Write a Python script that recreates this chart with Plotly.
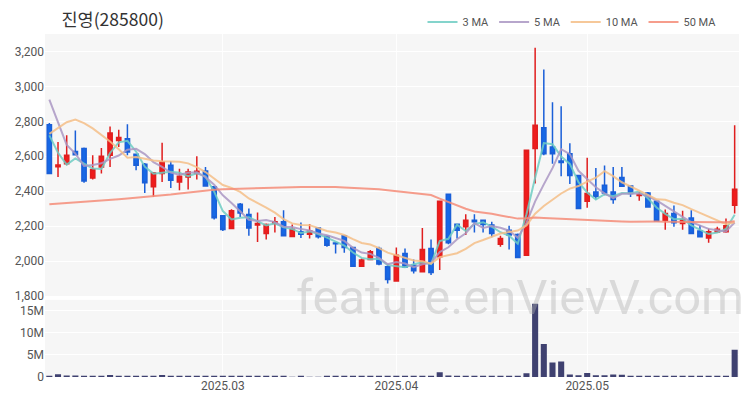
import pandas as pd
import plotly.graph_objects as go

# ---- data -------------------------------------------------------------
title_text = "진영(285800)"
holidays = ["2025-03-03", "2025-05-01", "2025-05-05", "2025-05-06"]
dates = [d.strftime("%Y-%m-%d") for d in pd.bdate_range("2025-02-03", "2025-05-29")
         if d.strftime("%Y-%m-%d") not in holidays]

open_ = [2781, 2540, 2558, 2628, 2644, 2476, 2539, 2606, 2691, 2701,
         2611, 2554, 2425, 2501, 2549, 2453, 2482, 2501, 2516, 2425,
         2259, 2187, 2326, 2267, 2206, 2158, 2215, 2225, 2141, 2168,
         2154, 2190, 2143, 2103, 2145, 2078, 1971, 2009, 2072, 1968,
         1886, 2043, 1977, 1939, 2072, 2025, 2383, 2211, 2196, 2234,
         2234, 2206, 2097, 2177, 2152, 2034, 2644, 2764, 2653, 2573,
         2615, 2490, 2343, 2396, 2434, 2396, 2478, 2430, 2375, 2390,
         2343, 2234, 2272, 2215, 2247, 2173, 2133, 2166, 2168, 2320]
high = [2790, 2682, 2720, 2748, 2650, 2606, 2648, 2771, 2752, 2783,
        2615, 2562, 2510, 2678, 2573, 2529, 2529, 2600, 2539, 2430,
        2262, 2297, 2333, 2301, 2278, 2215, 2253, 2291, 2209, 2221,
        2213, 2195, 2145, 2110, 2149, 2080, 2015, 2063, 2082, 1983,
        2078, 2072, 2009, 2189, 2124, 2343, 2383, 2211, 2268, 2268,
        2234, 2225, 2145, 2202, 2158, 2634, 3221, 3097, 2910, 2886,
        2674, 2494, 2592, 2533, 2548, 2539, 2539, 2434, 2396, 2396,
        2345, 2295, 2318, 2288, 2291, 2206, 2187, 2196, 2244, 2777]
low = [2500, 2482, 2549, 2605, 2448, 2467, 2501, 2539, 2653, 2606,
       2520, 2390, 2368, 2453, 2419, 2406, 2410, 2467, 2425, 2238,
       2173, 2187, 2253, 2145, 2110, 2124, 2164, 2141, 2137, 2133,
       2130, 2130, 2082, 2044, 2048, 1968, 1968, 2006, 1977, 1872,
       1886, 1967, 1929, 1935, 1920, 1949, 2097, 2130, 2149, 2164,
       2164, 2137, 2082, 2067, 2021, 2034, 2444, 2606, 2558, 2486,
       2442, 2297, 2305, 2352, 2377, 2329, 2424, 2367, 2345, 2305,
       2225, 2179, 2196, 2179, 2158, 2139, 2105, 2162, 2162, 2272]
close = [2501, 2550, 2606, 2609, 2459, 2524, 2600, 2733, 2707, 2625,
         2549, 2448, 2505, 2568, 2463, 2486, 2510, 2514, 2430, 2248,
         2181, 2288, 2276, 2190, 2215, 2209, 2225, 2145, 2183, 2154,
         2173, 2139, 2091, 2099, 2078, 1971, 2006, 2053, 1983, 1895,
         2034, 1967, 1945, 2067, 1935, 2343, 2105, 2177, 2234, 2225,
         2209, 2158, 2129, 2149, 2021, 2634, 2777, 2615, 2615, 2564,
         2490, 2301, 2387, 2371, 2390, 2352, 2428, 2387, 2381, 2310,
         2229, 2272, 2219, 2238, 2158, 2139, 2168, 2183, 2202, 2411]
volume = [250000, 600000, 350000, 350000, 150000, 150000, 150000, 450000, 200000, 200000,
          150000, 200000, 150000, 450000, 200000, 150000, 150000, 100000, 200000, 300000,
          100000, 80000, 80000, 60000, 50000, 60000, 50000, 50000, 40000, 50000,
          40000, 40000, 50000, 60000, 50000, 80000, 50000, 50000, 60000, 80000,
          100000, 80000, 120000, 150000, 120000, 1050000, 350000, 150000, 120000, 100000,
          90000, 80000, 60000, 70000, 120000, 850000, 16600000, 7500000, 3300000, 3500000,
          550000, 400000, 900000, 400000, 400000, 550000, 500000, 150000, 90000, 80000,
          120000, 100000, 80000, 90000, 100000, 80000, 90000, 80000, 120000, 6200000]

# moving-average values read from the chart where the window reaches
# before the first visible day
ma3_head = [2720, 2620]
ma5_head = [2924, 2790, 2665, 2615]
ma10_head = [2728, 2760, 2795, 2810, 2790, 2760, 2725, 2685, 2640]
ma50_head = [2326, 2329, 2332, 2335, 2338, 2342, 2346, 2350, 2354, 2358,
             2362, 2367, 2371, 2376, 2381, 2387, 2393, 2399, 2404, 2408,
             2411, 2413, 2414, 2415, 2417, 2419, 2421, 2422, 2423, 2424,
             2425, 2425, 2425, 2424, 2422, 2420, 2418, 2415, 2411, 2406,
             2400, 2394, 2389, 2384, 2378, 2358, 2338, 2318, 2300]

tick_dates = ["2025-03-04", "2025-04-01", "2025-05-02"]
tick_text = ["2025.03", "2025.04", "2025.05"]
price_ticks = [1800, 2000, 2200, 2400, 2600, 2800, 3000, 3200]
vol_ticks = [0, 5e6, 10e6, 15e6]

# ---- moving averages ---------------------------------------------------
cs = pd.Series(close, dtype=float)


def ma(n, head):
    s = cs.rolling(n).mean().tolist()
    return head + s[len(head):]


ma_specs = [("3 MA", ma(3, ma3_head), "rgba(110,205,195,0.85)"),
            ("5 MA", ma(5, ma5_head), "rgba(170,150,195,0.85)"),
            ("10 MA", ma(10, ma10_head), "rgba(245,190,135,0.85)"),
            ("50 MA", ma(50, ma50_head), "rgba(245,140,120,0.85)")]

# ---- figure ------------------------------------------------------------
fig = go.Figure()
fig.add_trace(go.Candlestick(
    x=dates, open=open_, high=high, low=low, close=close,
    increasing=dict(line=dict(color="#e01e1e", width=1.5), fillcolor="#f01c1c"),
    decreasing=dict(line=dict(color="#1a5fd8", width=1.5), fillcolor="#1668e6"),
    whiskerwidth=0, showlegend=False, hoverinfo="skip", xaxis="x", yaxis="y"))

for name, vals, col in ma_specs:
    fig.add_trace(go.Scatter(x=dates, y=vals, mode="lines", name=name,
                             line=dict(color=col, width=2), xaxis="x", yaxis="y"))

fig.add_trace(go.Bar(x=dates, y=volume, marker=dict(color="#3f4170", line=dict(width=0)),
                     showlegend=False, xaxis="x", yaxis="y2"))

font_main = "Roboto, 'Noto Sans CJK KR', sans-serif"
fig.update_layout(
    width=750, height=400,
    margin=dict(l=45, r=11, t=34, b=23, autoexpand=False),
    paper_bgcolor="white", plot_bgcolor="#f6f6f6",
    font=dict(family=font_main, size=12, color="#555"),
    bargap=0.3,
    title=dict(text=title_text, x=0.082, xref="container", xanchor="left",
               y=0.95, yref="container", yanchor="middle",
               font=dict(family="'Noto Sans CJK KR', sans-serif", size=17.5, color="#333")),
    legend=dict(orientation="h", x=0.962, xref="container", xanchor="right",
                y=0.945, yref="container", yanchor="middle", itemwidth=30,
                font=dict(size=11, color="#555"), bgcolor="rgba(0,0,0,0)"),
    xaxis=dict(type="category", anchor="y2", range=[-0.5, len(dates) - 0.5],
               tickvals=tick_dates, ticktext=tick_text, showgrid=True,
               gridcolor="rgba(255,255,255,0.9)", ticks="", zeroline=False,
               rangeslider=dict(visible=False), showline=False),
    yaxis=dict(domain=[0.236, 1.0], range=[1800, 3300], tickvals=price_ticks,
               tickformat=",d", gridcolor="white", gridwidth=1, zeroline=False,
               ticks="", showline=False),
    yaxis2=dict(domain=[0.0, 0.225], range=[0, 17.5e6], tickvals=vol_ticks,
                tickformat="~s", gridcolor="white", zeroline=False, ticks=""),
    annotations=[dict(text="feature.enVievV.com", xref="paper", yref="paper",
                      x=0.685, y=0.232, xanchor="center", yanchor="middle", showarrow=False,
                      font=dict(family="Roboto, sans-serif", size=49,
                                color="rgba(175,175,175,0.4)"))],
)

fig.write_html("out.html", config={"displayModeBar": False},
               post_script="document.body.style.margin='0';")
